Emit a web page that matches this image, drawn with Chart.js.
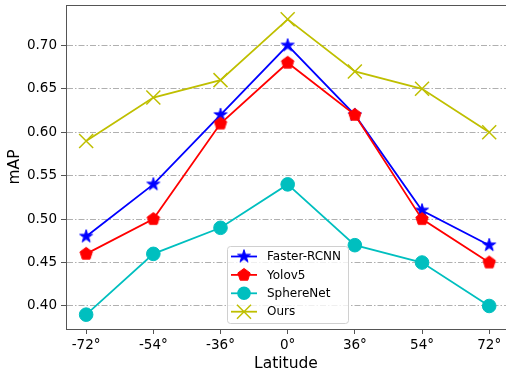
<!DOCTYPE html>
<html>
<head>
<meta charset="utf-8">
<script src="https://cdn.jsdelivr.net/npm/chart.js@4"></script>
<style>
html, body { margin: 0; padding: 0; background: #fff; }
</style>
</head>
<body>
<canvas id="chart" width="506" height="375"></canvas>
<script>
const latitudes = ['-72°', '-54°', '-36°', '0°', '36°', '54°', '72°'];
const fasterRcnn = [0.48, 0.54, 0.62, 0.70, 0.62, 0.51, 0.47];
const yolov5 = [0.46, 0.50, 0.61, 0.68, 0.62, 0.50, 0.45];
const sphereNet = [0.39, 0.46, 0.49, 0.54, 0.47, 0.45, 0.40];
const ours = [0.59, 0.64, 0.66, 0.73, 0.67, 0.65, 0.60];
const yTicks = [0.40, 0.45, 0.50, 0.55, 0.60, 0.65, 0.70];

const FONT = "'DejaVu Sans', sans-serif";
const spine = '#555';

// marker pictures (matplotlib style star and pentagon)
function marker(size, color, path) {
    const c = document.createElement('canvas');
    c.width = size;
    c.height = size;
    const ctx = c.getContext('2d');
    ctx.translate(size / 2, size / 2);
    ctx.fillStyle = color;
    ctx.strokeStyle = color;
    ctx.lineWidth = 1;
    ctx.beginPath();
    path(ctx);
    ctx.closePath();
    ctx.fill();
    ctx.stroke();
    return c;
}

function star(R) {
    return ctx => {
        const r = R * 0.382;
        for (let i = 0; i < 10; i++) {
            const a = -Math.PI / 2 + i * Math.PI / 5;
            const rad = i % 2 ? r : R;
            ctx.lineTo(Math.cos(a) * rad, Math.sin(a) * rad);
        }
    };
}

function pentagon(R) {
    return ctx => {
        for (let i = 0; i < 5; i++) {
            const a = -Math.PI / 2 + i * 2 * Math.PI / 5;
            ctx.lineTo(Math.cos(a) * R, Math.sin(a) * R);
        }
    };
}

const starImg = marker(18, '#0000ff', star(6.8));
const pentImg = marker(18, '#ff0000', pentagon(6.5));

function pts(arr) {
    return arr.map((v, i) => ({x: i, y: v}));
}

function serie(label, arr, color, style, radius, order) {
    return {
        label: label,
        data: pts(arr),
        borderColor: color,
        backgroundColor: color,
        borderWidth: 1.8,
        pointStyle: style,
        pointRadius: radius,
        pointBorderWidth: style === 'crossRot' ? 1.5 : 1,
        pointBackgroundColor: color,
        pointBorderColor: color,
        tension: 0,
        order: order
    };
}

// legend drawn inside the plot, like matplotlib
const insideLegend = {
    id: 'insideLegend',
    afterDraw(chart) {
        const ctx = chart.ctx;
        const x0 = 227, y0 = 246, w = 121, h = 77;
        ctx.save();
        ctx.beginPath();
        ctx.roundRect(x0 + 0.5, y0 + 0.5, w, h, 3);
        ctx.fillStyle = 'rgba(255,255,255,0.8)';
        ctx.fill();
        ctx.strokeStyle = '#d0d0d0';
        ctx.lineWidth = 1;
        ctx.stroke();

        chart.data.datasets.forEach((ds, i) => {
            const y = 256.5 + i * 18.4;
            ctx.strokeStyle = ds.borderColor;
            ctx.lineWidth = 1.8;
            ctx.beginPath();
            ctx.moveTo(231, y);
            ctx.lineTo(257, y);
            ctx.stroke();
            const mx = 244;
            if (ds.pointStyle instanceof HTMLCanvasElement) {
                ctx.drawImage(ds.pointStyle, mx - 9, y - 9);
            } else if (ds.pointStyle === 'circle') {
                ctx.fillStyle = ds.borderColor;
                ctx.beginPath();
                ctx.arc(mx, y, ds.pointRadius, 0, Math.PI * 2);
                ctx.fill();
            } else {
                const d = ds.pointRadius * Math.SQRT1_2;
                ctx.lineWidth = 1.5;
                ctx.beginPath();
                ctx.moveTo(mx - d, y - d);
                ctx.lineTo(mx + d, y + d);
                ctx.moveTo(mx - d, y + d);
                ctx.lineTo(mx + d, y - d);
                ctx.stroke();
            }
            ctx.fillStyle = '#000';
            ctx.font = '12px ' + FONT;
            ctx.textBaseline = 'middle';
            ctx.fillText(ds.label, 267, y + 0.5);
        });

        // top spine
        const a = chart.chartArea;
        ctx.strokeStyle = spine;
        ctx.lineWidth = 1;
        ctx.beginPath();
        ctx.moveTo(a.left, a.top + 0.5);
        ctx.lineTo(a.right, a.top + 0.5);
        ctx.stroke();
        ctx.restore();
    }
};

const grafico = document.getElementById('chart');
new Chart(grafico, {
    type: 'line',
    data: {
        datasets: [
            serie('Faster-RCNN', fasterRcnn, '#0000ff', starImg, 7, 4),
            serie('Yolov5', yolov5, '#ff0000', pentImg, 7, 3),
            serie('SphereNet', sphereNet, '#00bfbf', 'circle', 6.8, 2),
            serie('Ours', ours, '#bfbf00', 'crossRot', 9.9, 1)
        ]
    },
    options: {
        responsive: false,
        animation: false,
        events: [],
        devicePixelRatio: 1,
        layout: {autoPadding: false, padding: {top: 5, right: 0, bottom: 0, left: 0}},
        plugins: {
            legend: {display: false},
            tooltip: {enabled: false}
        },
        scales: {
            x: {
                type: 'linear',
                min: -0.3,
                max: 6.25,
                afterBuildTicks: s => { s.ticks = latitudes.map((_, i) => ({value: i})); },
                afterFit: s => {
                    s.height = 46;
                    s.paddingLeft = 0;
                    s.paddingRight = 0;
                },
                ticks: {
                    callback: v => latitudes[v],
                    font: {family: FONT, size: 13.5},
                    color: '#000',
                    padding: 3,
                    maxRotation: 0,
                    autoSkip: false
                },
                grid: {drawOnChartArea: false, tickLength: 5, tickColor: spine, color: spine},
                border: {color: spine, width: 1},
                title: {
                    display: true,
                    text: 'Latitude',
                    font: {family: FONT, size: 15.5},
                    color: '#000',
                    padding: {top: 0, bottom: 2}
                }
            },
            y: {
                type: 'linear',
                min: 0.3735,
                max: 0.7465,
                afterBuildTicks: s => { s.ticks = yTicks.map(v => ({value: v})); },
                afterFit: s => {
                    s.width = 66;
                    s.paddingTop = 0;
                    s.paddingBottom = 0;
                },
                ticks: {
                    callback: v => v.toFixed(2),
                    font: {family: FONT, size: 13.5},
                    color: '#000',
                    padding: 4
                },
                grid: {
                    color: '#b0b0b0',
                    lineWidth: 1,
                    tickLength: 5,
                    tickColor: spine,
                    tickBorderDash: []
                },
                border: {color: spine, width: 1, dash: [6, 2, 1.5, 2]},
                title: {
                    display: true,
                    text: 'mAP',
                    font: {family: FONT, size: 15.5},
                    color: '#000',
                    padding: {top: 6, bottom: 0}
                }
            }
        }
    },
    plugins: [insideLegend]
});
</script>
</body>
</html>
